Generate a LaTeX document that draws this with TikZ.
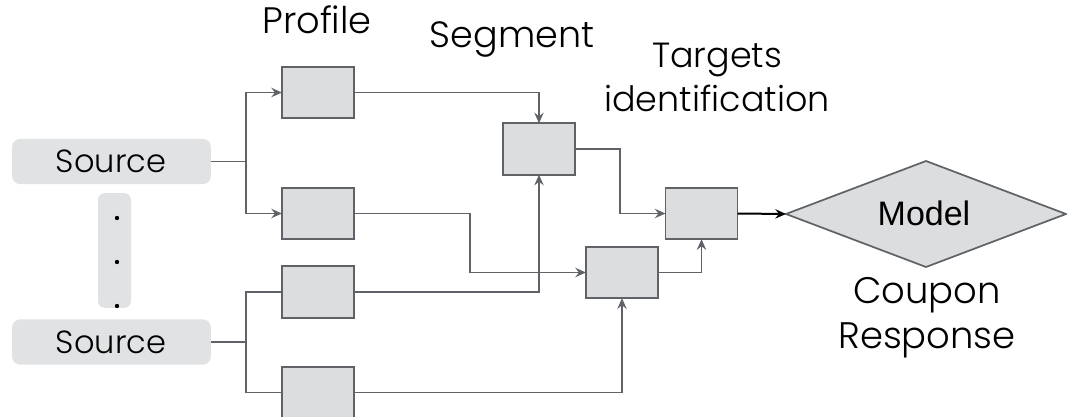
\documentclass[tikz,border=0pt]{standalone}
\usepackage{fontspec}
\setmainfont{Poppins}[UprightFont=* Light]
\newfontfamily\modelfont{Liberation Sans}
\usetikzlibrary{arrows.meta,shapes.geometric}
\definecolor{boxfill}{HTML}{DCDDDF}
\definecolor{srcfill}{HTML}{E1E2E4}
\definecolor{edge}{HTML}{5F6368}
\begin{document}
\begin{tikzpicture}[x=0.75pt,y=-0.75pt,
  every node/.style={inner sep=0pt,outer sep=0pt},
  stage/.style={draw=edge,fill=boxfill,line width=1.4pt,minimum width=54pt,minimum height=38.5pt},
  source/.style={fill=srcfill,rounded corners=6pt,minimum width=149pt,minimum height=34pt},
  link/.style={draw=edge,line width=1.3pt},
  flow/.style={link,-{Stealth[length=8pt,width=7pt,inset=2.7pt]}},
  title/.style={font=\fontsize{27.6}{33}\selectfont,anchor=base},
  big/.style={align=center,anchor=base}]
\useasboundingbox (0,0) rectangle (1067,417);

% sources and the ellipsis between them
\node[source] (s1) at (111.5,161.5) {};
\node[source] (s2) at (111.5,342) {};
\node[title,font=\fontsize{24}{28}\selectfont] at (111,173) {Source};
\node[title,font=\fontsize{24}{28}\selectfont] at (111,353) {Source};
\node[fill=srcfill,rounded corners=5pt,minimum width=24.75pt,minimum height=86pt] (dots) at (114.5,250.5) {};
\foreach \yy in {218,262,306} \fill (117,\yy) circle (2.2);

% processing stages
\node[stage] (b1) at (318,92.5) {};
\node[stage] (b2) at (318,213.5) {};
\node[stage] (b3) at (318,292) {};
\node[stage] (b4) at (318,392.5) {};
\node[stage] (seg) at (539,149) {};
\node[stage] (ti) at (701.5,213.5) {};
\node[stage] (b5) at (622,272.5) {};

% model
\node[diamond,draw=edge,fill=boxfill,line width=1.3pt,shape aspect=2.64,
      minimum width=210pt,minimum height=79.5pt] (model) at (926,214) {};
\node[font=\modelfont\fontsize{25.5}{30}\selectfont,anchor=base] at (924,225) {Model};

% stage titles
\node[title] at (317,34) {Profile};
\node[title,font=\fontsize{27.4}{33}\selectfont] at (512,48) {Segment};
\node[big,font=\fontsize{26.2}{33}\selectfont] at (717,112) {Targets\\identification};
\node[big,font=\fontsize{27.7}{33.75}\selectfont] at (927,348) {Coupon\\Response};

% connectors
\coordinate (j1) at (246,161.5);
\coordinate (j2) at (246,342);
\draw[link] (s1.east) -- (j1);
\draw[flow] (j1) |- (b1.west);
\draw[flow] (j1) |- (b2.west);
\draw[link] (s2.east) -- (j2);
\draw[link] (j2) |- (b3.west);
\draw[link] (j2) |- (b4.west);

\draw[flow] (b1.east) -| (seg.north);
\draw[flow] (b3.east) -| (seg.south);
\coordinate (k1) at (620,149);
\draw[flow] (seg.east) -- (k1) |- (ti.west);
\coordinate (k2) at (470,213.5);
\draw[flow] (b2.east) -- (k2) |- (b5.west);
\draw[flow] (b5.east) -| (ti.south);
\draw[flow] (b4.east) -| (b5.south);
\draw[line width=1.5pt,-{Stealth[length=8pt,width=7pt,inset=2.7pt]}] (ti.east) -- (model.west);
\end{tikzpicture}
\end{document}
